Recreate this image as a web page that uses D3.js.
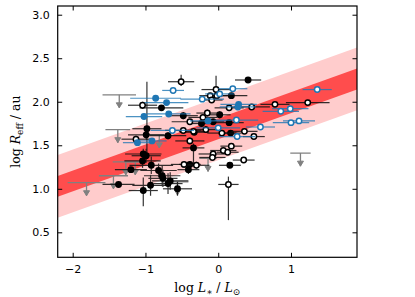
<!DOCTYPE html>
<html>
<head>
<meta charset="utf-8">
<script src="https://cdn.jsdelivr.net/npm/d3@7"></script>
<style>
body { margin: 0; background: #fff; }
svg text { font-family: "DejaVu Sans", sans-serif; }
.lab { font-family: "DejaVu Serif", serif; font-size: 12.5px; }
</style>
</head>
<body>
<div id="chart"></div>
<script>
// axis ticks
var xTicks = [-2, -1, 0, 1];
var yTicks = [0.5, 1.0, 1.5, 2.0, 2.5, 3.0];

// fit: log R = intercept + slope * log L
var fitSlope = 0.30, fitIntercept = 1.69;
var fitWidth = 0.12, scatterWidth = 0.36;

// [logL, logR, dx, dyDown, dyUp]
var filledBlack = [
  [0.41, 2.25, 0.18, 0.03, 0.03], [0.18, 2.07, 0.22, 0.03, 0.03],
  [-0.78, 1.93, 0.30, 0.03, 0.03], [-0.48, 1.84, 0.20, 0.04, 0.04],
  [0.02, 1.85, 0.15, 0.04, 0.04], [-0.07, 1.77, 0.15, 0.03, 0.03],
  [-0.23, 1.75, 0.18, 0.03, 0.03], [0.15, 1.76, 0.20, 0.03, 0.03],
  [-0.98, 1.69, 0.20, 0.30, 0.54], [-0.99, 1.62, 0.25, 0.05, 0.05],
  [-0.69, 1.61, 0.25, 0.04, 0.04], [-0.33, 1.65, 0.20, 0.03, 0.03],
  [0.17, 1.64, 0.15, 0.03, 0.03], [-0.34, 1.47, 0.15, 0.20, 0.05],
  [0.16, 1.27, 0.15, 0.03, 0.03], [-0.39, 1.28, 0.15, 0.04, 0.04],
  [-0.41, 1.22, 0.15, 0.05, 0.05], [-1.03, 1.40, 0.25, 0.06, 0.06],
  [-0.99, 1.38, 0.20, 0.08, 0.08], [-1.04, 1.32, 0.25, 0.08, 0.08],
  [-0.92, 1.27, 0.30, 0.10, 0.10], [-0.82, 1.21, 0.25, 0.08, 0.08],
  [-0.77, 1.15, 0.25, 0.12, 0.12], [-0.76, 1.12, 0.20, 0.10, 0.10],
  [-0.66, 1.09, 0.25, 0.10, 0.10], [-0.69, 1.06, 0.20, 0.12, 0.12],
  [-0.56, 1.00, 0.20, 0.08, 0.08], [-0.93, 1.04, 0.25, 0.12, 0.12],
  [-1.03, 0.98, 0.20, 0.18, 0.15], [-1.37, 1.05, 0.22, 0.03, 0.03],
  [-1.20, 1.22, 0.22, 0.03, 0.03]
];

var openBlack = [
  [-0.51, 2.23, 0.18, 0.05, 0.08], [-0.03, 2.14, 0.20, 0.04, 0.16],
  [-0.11, 2.07, 0.15, 0.03, 0.03], [-0.02, 2.07, 0.18, 0.03, 0.03],
  [-0.09, 2.02, 0.15, 0.03, 0.03], [-1.04, 1.96, 0.20, 0.04, 0.04],
  [0.15, 1.93, 0.20, 0.03, 0.03], [0.46, 1.94, 0.25, 0.03, 0.03],
  [0.78, 1.97, 0.20, 0.03, 0.03], [1.23, 1.99, 0.30, 0.03, 0.03],
  [-0.15, 1.87, 0.15, 0.04, 0.04], [-0.21, 1.82, 0.20, 0.04, 0.04],
  [-0.39, 1.77, 0.25, 0.03, 0.03], [-0.34, 1.66, 0.20, 0.03, 0.03],
  [-0.48, 1.67, 0.25, 0.03, 0.03], [-0.17, 1.68, 0.20, 0.04, 0.04],
  [0.05, 1.64, 0.20, 0.03, 0.03], [0.36, 1.66, 0.18, 0.03, 0.03],
  [0.49, 1.60, 0.15, 0.03, 0.03], [-1.13, 1.57, 0.20, 0.04, 0.04],
  [-0.39, 1.55, 0.20, 0.04, 0.04], [0.07, 1.44, 0.18, 0.03, 0.03],
  [0.13, 1.42, 0.15, 0.03, 0.03], [0.18, 1.49, 0.15, 0.03, 0.03],
  [-0.07, 1.40, 0.20, 0.03, 0.03], [-0.08, 1.36, 0.18, 0.03, 0.03],
  [0.35, 1.33, 0.15, 0.03, 0.03], [-0.47, 1.28, 0.18, 0.04, 0.04],
  [-0.30, 1.27, 0.18, 0.04, 0.04], [0.14, 1.05, 0.14, 0.41, 0.09]
];

var openBlue = [
  [-0.62, 2.13, 0.15, 0, 0], [0.20, 2.15, 0.20, 0, 0],
  [-0.22, 2.03, 0.30, 0, 0], [1.36, 2.14, 0.20, 0, 0],
  [0.99, 1.92, 0.25, 0, 0], [0.86, 1.89, 0.25, 0, 0],
  [0.25, 1.79, 0.30, 0, 0], [1.11, 1.78, 0.22, 0, 0],
  [1.00, 1.76, 0.25, 0, 0], [0.58, 1.71, 0.20, 0, 0],
  [0.00, 1.70, 0.30, 0, 0], [-0.63, 1.67, 0.30, 0, 0],
  [0.26, 1.60, 0.25, 0, 0], [0.02, 2.09, 0.20, 0, 0]
];

var filledBlue = [
  [-0.86, 2.04, 0.35, 0, 0], [-0.71, 1.99, 0.30, 0, 0],
  [-1.02, 1.83, 0.25, 0, 0], [-0.68, 1.86, 0.30, 0, 0],
  [0.28, 1.97, 0.25, 0, 0], [0.27, 1.94, 0.25, 0, 0],
  [-0.14, 1.78, 0.25, 0, 0], [-1.11, 1.53, 0.20, 0, 0],
  [-0.91, 1.55, 0.20, 0, 0]
];

// upper limits [logL, logR, dx]
var upperLims = [
  [-1.36, 2.08, 0.23], [-1.38, 1.68, 0.17], [-1.81, 1.07, 0.26],
  [-1.44, 1.15, 0.20], [-1.27, 1.31, 0.18], [-0.81, 1.62, 0.15],
  [-0.14, 1.35, 0.12], [1.13, 1.41, 0.14], [-0.56, 1.08, 0.15],
  [-1.14, 1.31, 0.15]
];

var w = 415, h = 297;
var mLeft = 57.7, mRight = 357, mTop = 6, mBottom = 257.3;

var x = d3.scaleLinear().domain([-2.206, 1.907]).range([mLeft, mRight]);
var y = d3.scaleLinear().domain([0.213, 3.1]).range([mBottom, mTop]);

var svg = d3.select("#chart").append("svg")
  .attr("width", w)
  .attr("height", h);

svg.append("clipPath").attr("id", "clip")
  .append("rect")
  .attr("x", mLeft).attr("y", mTop)
  .attr("width", mRight - mLeft).attr("height", mBottom - mTop);

var plot = svg.append("g").attr("clip-path", "url(#clip)");

// bands
var xs = x.domain();
function band(hw) {
  return d3.area()
    .x(function(d) { return x(d); })
    .y0(function(d) { return y(fitIntercept + fitSlope * d - hw); })
    .y1(function(d) { return y(fitIntercept + fitSlope * d + hw); })(xs);
}
plot.append("path").attr("d", band(scatterWidth)).attr("fill", "#ffcccc");
plot.append("path").attr("d", band(fitWidth)).attr("fill", "#ff4d4d");

// upper limits
var ul = plot.selectAll(".ul")
  .data(upperLims)
.enter().append("g")
  .attr("class", "ul");

ul.append("line")
  .attr("x1", function(d) { return x(d[0] - d[2]); })
  .attr("x2", function(d) { return x(d[0] + d[2]); })
  .attr("y1", function(d) { return y(d[1]); })
  .attr("y2", function(d) { return y(d[1]); })
  .attr("stroke", "#808080").attr("stroke-width", 1.3);

ul.append("line")
  .attr("x1", function(d) { return x(d[0]); })
  .attr("x2", function(d) { return x(d[0]); })
  .attr("y1", function(d) { return y(d[1]); })
  .attr("y2", function(d) { return y(d[1] - 0.15); })
  .attr("stroke", "#808080").attr("stroke-width", 1.3);

ul.append("path")
  .attr("d", function(d) {
    var px = x(d[0]), py = y(d[1] - 0.15);
    return "M" + (px - 3) + "," + (py - 5) + "L" + px + "," + py + "L" + (px + 3) + "," + (py - 5) + "Z";
  })
  .attr("fill", "#808080")
  .attr("stroke", "#808080").attr("stroke-width", 1);

function errorbars(data, colour, opacity) {
  var g = plot.append("g").attr("opacity", opacity);
  g.selectAll(".ex")
    .data(data)
  .enter().append("line")
    .attr("x1", function(d) { return x(d[0] - d[2]); })
    .attr("x2", function(d) { return x(d[0] + d[2]); })
    .attr("y1", function(d) { return y(d[1]); })
    .attr("y2", function(d) { return y(d[1]); })
    .attr("stroke", colour).attr("stroke-width", 1.2);
  g.selectAll(".ey")
    .data(data.filter(function(d) { return d[3] + d[4] > 0; }))
  .enter().append("line")
    .attr("x1", function(d) { return x(d[0]); })
    .attr("x2", function(d) { return x(d[0]); })
    .attr("y1", function(d) { return y(d[1] - d[3]); })
    .attr("y2", function(d) { return y(d[1] + d[4]); })
    .attr("stroke", colour).attr("stroke-width", 1.2);
}

function markers(data, fill, stroke) {
  plot.append("g").selectAll("circle")
    .data(data)
  .enter().append("circle")
    .attr("cx", function(d) { return x(d[0]); })
    .attr("cy", function(d) { return y(d[1]); })
    .attr("r", 2.7)
    .attr("fill", fill)
    .attr("stroke", stroke)
    .attr("stroke-width", 1.5);
}

errorbars(filledBlack, "#111", 0.85);
markers(filledBlack, "#000", "#000");
errorbars(openBlack, "#111", 0.85);
markers(openBlack, "#fff", "#000");
errorbars(filledBlue, "#1f77b4", 0.8);
markers(filledBlue, "#1f77b4", "#1f77b4");
errorbars(openBlue, "#1f77b4", 0.8);
markers(openBlue, "#fff", "#1f77b4");

// axes, ticks inward on all sides
var tl = 4.5;
svg.append("g")
  .attr("transform", "translate(0," + mBottom + ")")
  .call(d3.axisBottom(x).tickValues(xTicks).tickSizeInner(-tl).tickSizeOuter(0).tickPadding(8)
    .tickFormat(function(d) { return d3.format("d")(d).replace("-", "\u2212"); }));
svg.append("g")
  .attr("transform", "translate(0," + mTop + ")")
  .call(d3.axisTop(x).tickValues(xTicks).tickSizeInner(-tl).tickSizeOuter(0).tickFormat(""));
svg.append("g")
  .attr("transform", "translate(" + mLeft + ",0)")
  .call(d3.axisLeft(y).tickValues(yTicks).tickSizeInner(-tl).tickSizeOuter(0).tickPadding(8)
    .tickFormat(d3.format(".1f")));
svg.append("g")
  .attr("transform", "translate(" + mRight + ",0)")
  .call(d3.axisRight(y).tickValues(yTicks).tickSizeInner(-tl).tickSizeOuter(0).tickFormat(""));

svg.selectAll(".domain").remove();
svg.selectAll(".tick line").attr("stroke", "#000").attr("stroke-width", 1);
svg.selectAll(".tick text").attr("font-size", 11).attr("fill", "#000")
  .attr("font-family", "DejaVu Sans, sans-serif");

svg.append("rect")
  .attr("x", mLeft).attr("y", mTop)
  .attr("width", mRight - mLeft).attr("height", mBottom - mTop)
  .attr("fill", "none").attr("stroke", "#000").attr("stroke-width", 1.2);

// axis labels
var xl = svg.append("text").attr("class", "lab")
  .attr("x", (mLeft + mRight) / 2).attr("y", 292)
  .attr("text-anchor", "middle");
xl.append("tspan").text("log ");
xl.append("tspan").attr("font-style", "italic").text("L");
xl.append("tspan").attr("font-size", 9).attr("dy", 3).text("\u2217");
xl.append("tspan").attr("dy", -3).text(" / ");
xl.append("tspan").attr("font-style", "italic").text("L");
xl.append("tspan").attr("font-size", 9).attr("dy", 3).text("\u2299");

var yl = svg.append("text").attr("class", "lab")
  .attr("transform", "translate(20," + (mTop + mBottom) / 2 + ") rotate(-90)")
  .attr("text-anchor", "middle");
yl.append("tspan").text("log ");
yl.append("tspan").attr("font-style", "italic").text("R");
yl.append("tspan").attr("font-size", 9).attr("dy", 3).text("eff");
yl.append("tspan").attr("dy", -3).text(" / au");
</script>
</body>
</html>
